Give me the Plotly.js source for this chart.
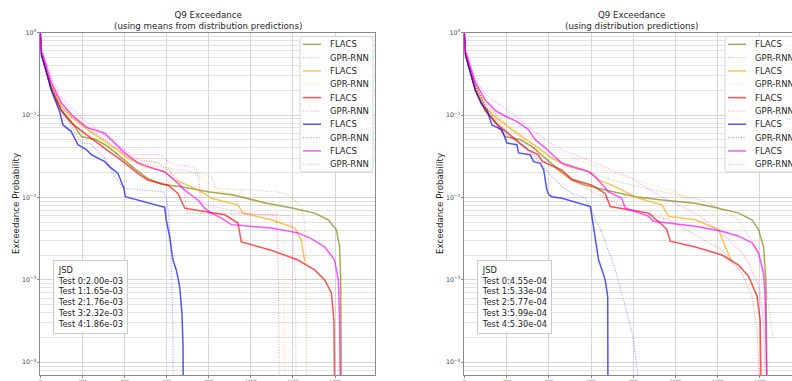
<!DOCTYPE html>
<html><head><meta charset="utf-8">
<script src="https://cdn.plot.ly/plotly-3.0.1.min.js"></script>
<style>html,body{margin:0;padding:0;background:#fff}#chart{width:792px;height:381px}</style>
</head><body><div id="chart"></div>
<script>
// ---------- labels ----------
const panelTitles = ['Q9 Exceedance<br>(using means from distribution predictions)', 'Q9 Exceedance<br>(using distribution predictions)'];
const yTitle = 'Exceedance Probability';
const seriesNames = ['FLACS', 'GPR-RNN'];
const testLabels = ['Test 0', 'Test 1', 'Test 2', 'Test 3', 'Test 4'];
const jsdMeans = ['2.00e-03', '1.65e-03', '1.76e-03', '2.32e-03', '1.86e-03'];
const jsdDist = ['4.55e-04', '5.33e-04', '5.77e-04', '5.99e-04', '5.30e-04'];
const testColors = ['128,128,0', '255,165,0', '255,0,0', '0,0,255', '255,0,255'];

// ---------- left panel: means from distribution predictions ----------
const L0F_x = [0,5,21,52,95,147,195,266,321,385,448,511,575,670,796,917,1075,1202,1303,1367,1406,1422,1427,1430];
const L0F_y = [1,0.56,0.398,0.209,0.120,0.0832,0.0550,0.0501,0.0417,0.0302,0.0224,0.0170,0.0145,0.0135,0.0117,0.0107,0.00851,0.00741,0.00646,0.00537,0.00407,0.00251,0.00100,0.00005];
const L0G_x = [0,5,21,52,100,150,200,260,330,400,460,520,600,700,780,812,836,1000,1129,1180,1208,1240,1256,1262,1266];
const L0G_y = [1,0.575,0.417,0.219,0.117,0.0794,0.0631,0.0525,0.0380,0.0316,0.0275,0.0251,0.0229,0.0209,0.0191,0.0178,0.0129,0.0123,0.0117,0.0105,0.00933,0.00776,0.00490,0.00158,0.00005];
const L1F_x = [0,5,21,52,100,150,226,306,369,416,496,591,638,701,780,812,939,963,1097,1208,1240,1256];
const L1F_y = [1,0.562,0.417,0.229,0.126,0.0933,0.0661,0.0479,0.0372,0.0299,0.0237,0.0206,0.0162,0.0141,0.0112,0.00977,0.00813,0.00646,0.00537,0.00427,0.00302,0.00166];
const L1G_x = [0,5,21,52,100,150,200,280,330,380,430,500,600,622,733,760,790,836,970,1097,1129,1152,1158,1162];
const L1G_y = [1,0.603,0.437,0.240,0.138,0.1,0.0794,0.0631,0.0562,0.0398,0.0316,0.0282,0.0251,0.0195,0.0195,0.0178,0.0158,0.0123,0.0102,0.00776,0.00646,0.00407,0.00126,0.00005];
const L2F_x = [0,5,21,52,100,150,200,260,330,370,420,470,512,607,654,686,781,876,939,955,1097,1224,1303,1351,1383,1395,1398];
const L2F_y = [1,0.55,0.398,0.209,0.112,0.0794,0.0631,0.0479,0.0355,0.0302,0.0240,0.0191,0.0162,0.0141,0.0112,0.00741,0.00676,0.00617,0.00490,0.00288,0.00229,0.00174,0.00132,0.00100,0.000692,0.000316,0.00005];
const L2G_x = [0,5,21,52,100,150,200,280,350,420,480,560,600,650,680,700,1120,1128,1132,1135];
const L2G_y = [1,0.589,0.427,0.234,0.132,0.0955,0.0759,0.0562,0.0417,0.0316,0.0282,0.0263,0.0224,0.0166,0.0126,0.00646,0.00617,0.00316,0.000631,0.00005];
const L3F_x = [0,5,21,52,92,108,147,179,219,242,306,329,369,385,397,404,464,591,598,614,630,646,662,673,678,679];
const L3F_y = [1,0.537,0.389,0.202,0.110,0.0759,0.0631,0.0437,0.0380,0.0331,0.0272,0.0237,0.0196,0.0156,0.0129,0.0102,0.00933,0.00759,0.00537,0.00339,0.00174,0.00132,0.000832,0.000389,0.000155,0.00005];
const L3G_x = [0,5,21,52,100,147,195,242,306,345,377,404,583,598,609,619,625,630,632];
const L3G_y = [1,0.55,0.407,0.221,0.115,0.0724,0.0457,0.0447,0.0299,0.0196,0.0148,0.0129,0.0117,0.0102,0.00646,0.00251,0.00100,0.000251,0.00005];
const L4F_x = [0,5,21,52,100,150,220,306,401,464,543,591,638,686,749,781,812,860,907,1097,1224,1287,1351,1398,1416,1422,1425];
const L4F_y = [1,0.603,0.457,0.251,0.141,0.1,0.0708,0.0603,0.0347,0.0263,0.0224,0.0204,0.0162,0.0123,0.00933,0.00741,0.00646,0.00562,0.00468,0.00427,0.00372,0.00316,0.00251,0.00174,0.00100,0.000316,0.00005];
const L4G_x = [0,5,21,52,100,150,200,260,330,400,432,575,600,640,700,740,755,760,800,900,1000,1180,1200,1212,1215];
const L4G_y = [1,0.631,0.501,0.282,0.166,0.120,0.0891,0.0708,0.0501,0.0380,0.0331,0.0331,0.0282,0.0251,0.0240,0.0224,0.0158,0.00891,0.00794,0.00708,0.00631,0.00603,0.00398,0.00100,0.00005];

// ---------- right panel: distribution predictions ----------
const R0F_x = [0,5,21,52,95,147,194,265,320,384,447,510,573,668,810,936,1094,1204,1299,1362,1393,1417,1428,1433];
const R0F_y = [1,0.575,0.398,0.209,0.120,0.0832,0.0550,0.0501,0.0417,0.0299,0.0216,0.0163,0.0141,0.0123,0.0102,0.00933,0.00851,0.00741,0.00646,0.00537,0.00407,0.00251,0.00100,0.00005];
const R0G_x = [0,5,21,52,100,150,220,300,400,500,589,699,857,1015,1125,1204,1299,1378,1425,1464];
const R0G_y = [1,0.603,0.437,0.240,0.141,0.1,0.0676,0.0447,0.0316,0.0251,0.0206,0.0163,0.0129,0.0107,0.00933,0.00741,0.00537,0.00251,0.00100,0.000186];
const R1F_x = [0,5,21,52,100,150,226,305,368,415,494,589,636,699,778,825,936,968,1094,1204,1236,1267];
const R1F_y = [1,0.562,0.417,0.229,0.126,0.0933,0.0661,0.0479,0.0372,0.0299,0.0237,0.0206,0.0162,0.0141,0.0112,0.00977,0.00813,0.00589,0.00537,0.00407,0.00251,0.00166];
const R1G_x = [0,5,21,52,100,150,250,384,462,620,778,936,999,1188,1299,1362,1401,1417,1425];
const R1G_y = [1,0.603,0.437,0.240,0.138,0.1,0.0631,0.0437,0.0343,0.0237,0.0174,0.0132,0.0117,0.00589,0.00251,0.00145,0.000759,0.000324,0.00005];
const R2F_x = [0,5,21,52,100,150,220,300,350,368,420,462,510,604,667,691,778,873,944,959,975,1094,1220,1299,1346,1386,1401,1405];
const R2F_y = [1,0.55,0.380,0.200,0.112,0.0794,0.0562,0.0380,0.0331,0.0275,0.0240,0.0214,0.0166,0.0141,0.0112,0.00776,0.00708,0.00646,0.00447,0.00407,0.00295,0.00251,0.00200,0.00151,0.00110,0.000631,0.000324,0.00005];
const R2G_x = [0,5,21,52,100,200,300,400,500,600,700,800,900,968,1220,1315,1362,1386,1398];
const R2G_y = [1,0.589,0.417,0.229,0.126,0.0631,0.0380,0.0251,0.0166,0.0120,0.00891,0.00708,0.00603,0.00537,0.00229,0.00120,0.000631,0.000245,0.00005];
const R3F_x = [0,5,21,52,80,107,131,178,202,249,257,312,328,360,376,383,391,402,415,462,597,604,620,636,652,667,679,680];
const R3F_y = [1,0.537,0.389,0.200,0.138,0.115,0.0759,0.0661,0.0457,0.0437,0.0347,0.0331,0.0272,0.0260,0.0216,0.0163,0.0123,0.0107,0.0102,0.00977,0.00776,0.00589,0.00302,0.00174,0.00132,0.00100,0.000631,0.00005];
const R3G_x = [0,5,21,52,100,150,210,305,368,415,462,510,573,597,652,715,762,802,828];
const R3G_y = [1,0.562,0.427,0.234,0.126,0.0794,0.0550,0.0380,0.0248,0.0179,0.0136,0.0112,0.00977,0.00741,0.00372,0.00132,0.000479,0.000186,0.00005];
const R4F_x = [0,5,21,52,100,150,200,250,305,336,384,462,589,620,683,746,762,873,896,1094,1220,1299,1362,1393,1417,1425,1433];
const R4F_y = [1,0.603,0.447,0.251,0.151,0.112,0.0955,0.0832,0.0661,0.0501,0.0398,0.0260,0.0206,0.0179,0.0117,0.00977,0.00741,0.00589,0.00513,0.00447,0.00389,0.00339,0.00282,0.00214,0.00120,0.000575,0.00005];
const R4G_x = [0,5,21,52,100,147,226,305,384,462,541,620,699,778,936,1094,1220,1330,1393,1417,1425];
const R4G_y = [1,0.631,0.479,0.269,0.178,0.146,0.105,0.0724,0.0501,0.0380,0.0313,0.0260,0.0216,0.0179,0.0102,0.00646,0.00372,0.00191,0.000832,0.000295,0.00005];

const leftSeries = [[L0F_x,L0F_y,L0G_x,L0G_y],[L1F_x,L1F_y,L1G_x,L1G_y],[L2F_x,L2F_y,L2G_x,L2G_y],[L3F_x,L3F_y,L3G_x,L3G_y],[L4F_x,L4F_y,L4G_x,L4G_y]];
const rightSeries = [[R0F_x,R0F_y,R0G_x,R0G_y],[R1F_x,R1F_y,R1G_x,R1G_y],[R2F_x,R2F_y,R2G_x,R2G_y],[R3F_x,R3F_y,R3G_x,R3G_y],[R4F_x,R4F_y,R4G_x,R4G_y]];

// ---------- styling ----------
const W = 792, H = 381;
const FONT = 'DejaVu Sans, Verdana, sans-serif';
const TXT = '#262626';
const solidStyle = c => ({color: 'rgba(' + c + ',0.68)', width: 1.5, dash: 'solid'});
const dotStyle = c => ({color: 'rgba(' + c + ',0.4)', width: 1.1, dash: '1px,1.6px'});
const px = v => v / W;
const py = v => 1 - v / H;

const traces = [];
function addPanel(series, xa, ya) {
  series.forEach((s, i) => {
    traces.push({x: s[0], y: s[1], type: 'scatter', mode: 'lines', name: seriesNames[0], xaxis: xa, yaxis: ya, line: solidStyle(testColors[i]), showlegend: false, hoverinfo: 'skip'});
    traces.push({x: s[2], y: s[3], type: 'scatter', mode: 'lines', name: seriesNames[1], xaxis: xa, yaxis: ya, line: dotStyle(testColors[i]), showlegend: false, hoverinfo: 'skip'});
  });
}
addPanel(leftSeries, 'x', 'y');
addPanel(rightSeries, 'x2', 'y2');

const yDomain = [py(375), py(32.7)];
function xAxis(domain, range) {
  return {domain: domain, range: range, dtick: 200, tick0: 0, showgrid: true, gridcolor: '#d6d6d6', gridwidth: 1,
    zeroline: false, showline: true, linecolor: '#8a8a8a', linewidth: 1, mirror: true,
    ticks: 'outside', ticklen: 2, tickcolor: '#8a8a8a', tickfont: {family: FONT, size: 4.5, color: '#444'}};
}
function yAxis(anchor, mirror) {
  return {domain: yDomain, type: 'log', range: [-4.155, 0], dtick: 1, exponentformat: 'power',
    labelalias: {'1': '10<sup>0</sup>'}, anchor: anchor,
    showgrid: true, gridcolor: '#d6d6d6', gridwidth: 1, zeroline: false,
    minor: {dtick: 'D1', showgrid: true, gridcolor: '#e3e3e3', gridwidth: 1, ticks: ''},
    showline: true, linecolor: '#8a8a8a', linewidth: 1, mirror: mirror,
    ticks: 'outside', ticklen: 2, tickcolor: '#8a8a8a', tickfont: {family: FONT, size: 5, color: '#444'}};
}

const annotations = [];
const shapes = [];
const panels = [
  {x0: 40.3, x1: 375, jsd: jsdMeans, yTitleX: 16, legendX: 300},
  {x0: 464.3, x1: 799, jsd: jsdDist, yTitleX: 440, legendX: 725}
];
panels.forEach((p, k) => {
  annotations.push({text: panelTitles[k], xref: 'paper', yref: 'paper', x: px((p.x0 + p.x1) / 2), y: py(20.7),
    xanchor: 'center', yanchor: 'middle', showarrow: false, font: {family: FONT, size: 8.7, color: TXT}});
  annotations.push({text: yTitle, xref: 'paper', yref: 'paper', x: px(p.yTitleX), y: py(204), textangle: -90,
    xanchor: 'center', yanchor: 'middle', showarrow: false, font: {family: FONT, size: 8.7, color: TXT}});
  const jsdLines = ['JSD'].concat(testLabels.map((t, i) => t + ':' + p.jsd[i]));
  annotations.push({text: jsdLines.join('<br>'), xref: 'paper', yref: 'paper', x: px(p.x0 + 12.3), y: py(260.2),
    xanchor: 'left', yanchor: 'top', align: 'left', showarrow: false, bgcolor: 'rgba(255,255,255,0.85)',
    bordercolor: '#cccccc', borderwidth: 1, borderpad: 3.8, font: {family: FONT, size: 8.3, color: TXT}});
  // legend
  const bx0 = p.legendX, bx1 = p.legendX + 73, by0 = 36.5, by1 = 172, r = 3;
  const path = 'M' + px(bx0 + r) + ',' + py(by0) + ' L' + px(bx1 - r) + ',' + py(by0) +
    ' Q' + px(bx1) + ',' + py(by0) + ' ' + px(bx1) + ',' + py(by0 + r) +
    ' L' + px(bx1) + ',' + py(by1 - r) + ' Q' + px(bx1) + ',' + py(by1) + ' ' + px(bx1 - r) + ',' + py(by1) +
    ' L' + px(bx0 + r) + ',' + py(by1) + ' Q' + px(bx0) + ',' + py(by1) + ' ' + px(bx0) + ',' + py(by1 - r) +
    ' L' + px(bx0) + ',' + py(by0 + r) + ' Q' + px(bx0) + ',' + py(by0) + ' ' + px(bx0 + r) + ',' + py(by0) + ' Z';
  shapes.push({type: 'path', xref: 'paper', yref: 'paper', path: path, fillcolor: 'rgba(255,255,255,0.85)',
    line: {color: '#d4d4d4', width: 1}, layer: 'above'});
  testColors.forEach((c, i) => {
    [solidStyle(c), dotStyle(c)].forEach((st, j) => {
      const row = i * 2 + j;
      const yc = 44.3 + row * 13.33;
      shapes.push({type: 'line', xref: 'paper', yref: 'paper', x0: px(bx0 + 3), x1: px(bx0 + 21), y0: py(yc), y1: py(yc),
        line: {color: st.color, width: j === 0 ? 1.5 : 1.1, dash: st.dash}, layer: 'above'});
      annotations.push({text: seriesNames[j], xref: 'paper', yref: 'paper', x: px(bx0 + 27.5), y: py(yc),
        xanchor: 'left', yanchor: 'middle', showarrow: false, font: {family: FONT, size: 8.5, color: TXT}});
    });
  });
});

const layout = {
  width: W, height: H, margin: {l: 0, r: 0, t: 0, b: 0, autoexpand: false},
  paper_bgcolor: '#ffffff', plot_bgcolor: '#ffffff', showlegend: false,
  font: {family: FONT, color: TXT},
  xaxis: xAxis([px(40.3), px(375)], [0, 1590]),
  yaxis: yAxis('x', true),
  xaxis2: Object.assign(xAxis([px(464.3), 1], [0, 1551.6]), {anchor: 'y2'}),
  yaxis2: yAxis('x2', false),
  annotations: annotations, shapes: shapes
};
layout.xaxis.anchor = 'y';
Plotly.newPlot('chart', traces, layout, {staticPlot: true, displayModeBar: false});
</script>
</body></html>
